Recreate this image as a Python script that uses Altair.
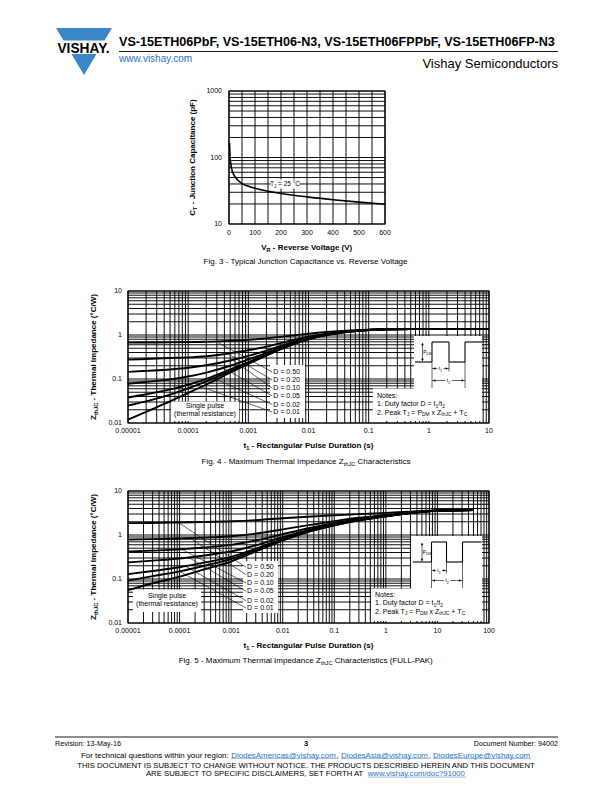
import altair as alt
import pandas as pd

FONT = "Liberation Sans, Arial, Helvetica, sans-serif"
LOGO_BLUE = "#3b86c8"
LINK_BLUE = "#2a72c0"

# ------------------------------------------------------------------ text content
TITLE = "VS-15ETH06PbF, VS-15ETH06-N3, VS-15ETH06FPPbF, VS-15ETH06FP-N3"
SITE = "www.vishay.com"
COMPANY = "Vishay Semiconductors"
REVISION = "Revision: 13-May-16"
PAGE = "3"
DOCNUM = "Document Number: 94002"
DISC1 = "THIS DOCUMENT IS SUBJECT TO CHANGE WITHOUT NOTICE. THE PRODUCTS DESCRIBED HEREIN AND THIS DOCUMENT"
DISC2 = "ARE SUBJECT TO SPECIFIC DISCLAIMERS, SET FORTH AT "
DISC_LINK = "www.vishay.com/doc?91000"

# ------------------------------------------------------------------ Fig. 3 data
fig3_vr = [2, 3, 4, 5, 7, 10, 15, 20, 30, 50, 75, 100, 150, 200, 300, 400, 500, 600]
fig3_ct = [165, 128, 106, 93, 80, 68, 59, 54, 47.5, 40.5, 37, 34.5, 31, 28.8, 25.6, 23.2, 21.3, 19.8]
fig3_x_ticks = [0, 100, 200, 300, 400, 500, 600]
fig3_x_labels = ["0", "100", "200", "300", "400", "500", "600"]
fig3_y_ticks = [10, 100, 1000]
fig3_y_labels = ["10", "100", "1000"]

# ------------------------------------------------------------------ Fig. 4 data
fig4_t = [1e-5, 2e-5, 5e-5, 1e-4, 2e-4, 5e-4, 1e-3, 2e-3, 5e-3, 1e-2, 2e-2, 5e-2, 0.1, 0.2, 0.5, 1, 10]
fig4_single = [0.012, 0.018, 0.031, 0.048, 0.075, 0.14, 0.22, 0.34, 0.58, 0.80, 1.00, 1.20, 1.30, 1.35, 1.37, 1.37, 1.37]
fig4_d001 = [0.025, 0.031, 0.044, 0.061, 0.088, 0.152, 0.231, 0.35, 0.588, 0.806, 1.004, 1.20, 1.30, 1.35, 1.37, 1.37, 1.37]
fig4_d002 = [0.038, 0.045, 0.058, 0.074, 0.101, 0.165, 0.243, 0.36, 0.596, 0.811, 1.007, 1.203, 1.30, 1.35, 1.37, 1.37, 1.37]
fig4_d005 = [0.078, 0.086, 0.098, 0.114, 0.14, 0.20, 0.278, 0.392, 0.62, 0.83, 1.02, 1.21, 1.30, 1.35, 1.37, 1.37, 1.37]
fig4_d010 = [0.145, 0.153, 0.165, 0.18, 0.205, 0.263, 0.335, 0.443, 0.66, 0.857, 1.037, 1.217, 1.307, 1.35, 1.37, 1.37, 1.37]
fig4_d020 = [0.275, 0.285, 0.30, 0.31, 0.33, 0.385, 0.45, 0.545, 0.74, 0.915, 1.07, 1.23, 1.31, 1.35, 1.37, 1.37, 1.37]
fig4_d050 = [0.67, 0.675, 0.68, 0.69, 0.70, 0.735, 0.775, 0.84, 0.96, 1.07, 1.17, 1.27, 1.32, 1.35, 1.37, 1.37, 1.37]
fig4_series = [("single", fig4_single), ("0.01", fig4_d001), ("0.02", fig4_d002), ("0.05", fig4_d005),
               ("0.10", fig4_d010), ("0.20", fig4_d020), ("0.50", fig4_d050)]

# ------------------------------------------------------------------ Fig. 5 data
fig5_t = [1e-5, 3e-5, 1e-4, 3e-4, 1e-3, 3e-3, 1e-2, 3e-2, 0.1, 0.3, 1, 3, 10, 50]
fig5_single = [0.056, 0.08, 0.113, 0.165, 0.25, 0.42, 0.75, 1.15, 1.65, 2.15, 2.65, 3.15, 3.55, 3.7]
fig5_d001 = [0.092, 0.116, 0.149, 0.20, 0.285, 0.453, 0.78, 1.176, 1.67, 2.165, 2.66, 3.155, 3.55, 3.7]
fig5_d002 = [0.129, 0.152, 0.185, 0.236, 0.319, 0.486, 0.809, 1.201, 1.69, 2.18, 2.67, 3.16, 3.55, 3.7]
fig5_d005 = [0.238, 0.261, 0.292, 0.342, 0.423, 0.584, 0.898, 1.278, 1.753, 2.228, 2.70, 3.18, 3.56, 3.7]
fig5_d010 = [0.42, 0.442, 0.472, 0.519, 0.595, 0.748, 1.045, 1.405, 1.855, 2.305, 2.755, 3.205, 3.565, 3.7]
fig5_d020 = [0.785, 0.804, 0.83, 0.872, 0.94, 1.076, 1.34, 1.66, 2.06, 2.46, 2.86, 3.26, 3.58, 3.7]
fig5_d050 = [1.86, 1.88, 1.92, 1.97, 2.05, 2.18, 2.40, 2.60, 2.80, 2.98, 3.18, 3.40, 3.62, 3.7]
fig5_series = [("single", fig5_single), ("0.01", fig5_d001), ("0.02", fig5_d002), ("0.05", fig5_d005),
               ("0.10", fig5_d010), ("0.20", fig5_d020), ("0.50", fig5_d050)]

# shared axis labels for the thermal-impedance plots
zth_y_ticks = [0.01, 0.1, 1, 10]
zth_y_labels = ["0.01", "0.1", "1", "10"]
fig4_x_ticks = [1e-5, 1e-4, 1e-3, 1e-2, 0.1, 1, 10]
fig4_x_labels = ["0.00001", "0.0001", "0.001", "0.01", "0.1", "1", "10"]
fig5_x_ticks = [1e-5, 1e-4, 1e-3, 1e-2, 0.1, 1, 10, 100]
fig5_x_labels = ["0.00001", "0.0001", "0.001", "0.01", "0.1", "1", "10", "100"]

duty_labels = ["D = 0.50", "D = 0.20", "D = 0.10", "D = 0.05", "D = 0.02", "D = 0.01"]
fig4_label_t = 0.0025
fig4_label_z = [0.144, 0.095, 0.0624, 0.0411, 0.0263, 0.0178]
fig4_leader_t0 = [3.0e-4, 4.5e-4, 5.5e-4, 4.0e-4, 2.5e-4, 1.4e-4]
fig4_leader_z0 = [0.70, 0.38, 0.27, 0.175, 0.108, 0.072]
fig5_label_t = 0.00195
fig5_label_z = [0.184, 0.125, 0.081, 0.0525, 0.0321, 0.0218]
fig5_leader_t0 = [9.5e-5, 1.6e-4, 1.1e-4, 1.5e-4, 1.3e-4, 1.0e-4]
fig5_leader_z0 = [1.92, 0.85, 0.475, 0.31, 0.195, 0.149]

# ------------------------------------------------------------------ font metrics (Helvetica/Arial)
_UP = "ABCDEFGHIJKLMNOPQRSTUVWXYZ"
_LO = "abcdefghijklmnopqrstuvwxyz"
_R = dict(zip(_UP, [667, 667, 722, 722, 667, 611, 778, 722, 278, 500, 667, 556, 833, 722, 778, 667, 778, 722, 667, 611, 722, 667, 944, 667, 667, 611]))
_R.update(zip(_LO, [556, 556, 500, 556, 556, 278, 556, 556, 222, 222, 500, 222, 833, 556, 556, 556, 556, 333, 500, 278, 556, 500, 722, 500, 500, 500]))
_R.update({" ": 278, "(": 333, ")": 333, ",": 278, "-": 333, ".": 278, "/": 278, ":": 278, "=": 584, "@": 1015, "°": 400, "+": 584, "?": 556})
_R.update({d: 556 for d in "0123456789"})
_B = dict(zip(_UP, [722, 722, 722, 722, 667, 611, 778, 722, 278, 556, 722, 611, 833, 722, 778, 667, 778, 722, 667, 611, 722, 667, 944, 667, 667, 611]))
_B.update(zip(_LO, [556, 611, 556, 611, 556, 333, 611, 611, 278, 278, 556, 278, 889, 611, 611, 611, 611, 389, 556, 333, 611, 556, 778, 556, 556, 500]))
_B.update({" ": 278, "(": 333, ")": 333, ",": 278, "-": 333, ".": 278, "/": 278, ":": 333, "=": 584, "@": 975, "°": 400, "+": 584, "?": 611})
_B.update({d: 556 for d in "0123456789"})


def tw(s, size, bold=False):
    tab = _B if bold else _R
    return sum(tab.get(c, 556) for c in s) * size / 1000.0


texts = []


def add_text(x, y, s, size, weight="normal", color="black", align="left", angle=0, font=FONT, baseline="alphabetic"):
    texts.append(dict(x=x, y=y, text=s, size=size, weight=weight, color=color, align=align,
                      angle=angle, font=font, baseline=baseline))


def rich(segs, x, y, size, weight="normal", anchor="left", angle=0):
    bold = weight == "bold"
    items = []
    for seg in segs:
        s, kind = seg[0], seg[1]
        col = seg[2] if len(seg) > 2 else "black"
        fs = size * 0.7 if kind == "s" else size
        sh = size * 0.25 if kind == "s" else 0.0
        items.append((s, fs, sh, col, tw(s, fs, bold)))
    total = sum(i[4] for i in items)
    pos = -{"left": 0, "center": total / 2.0, "right": total}[anchor]
    spans = []
    for s, fs, sh, col, w in items:
        lead = len(s) - len(s.lstrip(" "))
        start = pos + tw(" " * lead, fs, bold)
        body = s.strip(" ")
        if body:
            if angle == 0:
                add_text(x + start, y + sh, body, fs, weight, col)
            else:
                add_text(x + sh, y - start, body, fs, weight, col, angle=270)
        spans.append((x + start, x + start + tw(body, fs, bold)))
        pos += w
    return spans


segs_px = []   # x0, y0, x1, y1, width, color
rects_px = []  # x0, y0, x1, y1
arrows = []    # x, y, shape


def log_grid(e0, e1):
    vals = [float(f"{m}e{e}") for e in range(e0, e1) for m in range(1, 10)]
    return vals + [float(f"1e{e1}")]


layers = []
GRID_W = 0.95


def vgrid(vals, xs, y0, y1):
    return alt.Chart(pd.DataFrame({"v": vals})).mark_rule(color="black", strokeWidth=GRID_W).encode(
        x=alt.X("v:Q", scale=xs, axis=None), y=alt.value(y0), y2=alt.value(y1))


def hgrid(vals, ys, x0, x1):
    return alt.Chart(pd.DataFrame({"v": vals})).mark_rule(color="black", strokeWidth=GRID_W).encode(
        y=alt.Y("v:Q", scale=ys, axis=None), x=alt.value(x0), x2=alt.value(x1))


def frame(x0, y0, x1, y1):
    return alt.Chart(pd.DataFrame({"a": [0]})).mark_rect(fillOpacity=0, stroke="black", strokeWidth=1.2).encode(
        x=alt.value(x0), x2=alt.value(x1), y=alt.value(y0), y2=alt.value(y1))


def white_boxes(boxes):
    df = pd.DataFrame(boxes, columns=["x0", "y0", "x1", "y1"])
    return alt.Chart(df).mark_rect(color="white").encode(
        x=alt.X("x0:Q", scale=None, axis=None), x2="x1:Q",
        y=alt.Y("y0:Q", scale=None, axis=None), y2="y1:Q")


def curves(t, series, xs, ys, w):
    rows = [dict(t=tt, z=zz, s=name) for name, zs in series for tt, zz in zip(t, zs)]
    return alt.Chart(pd.DataFrame(rows)).mark_line(color="black", strokeWidth=w, interpolate="monotone").encode(
        x=alt.X("t:Q", scale=xs, axis=None), y=alt.Y("z:Q", scale=ys, axis=None), detail="s:N")


def xticks(vals, labels, xs, yb):
    return alt.Chart(pd.DataFrame({"v": vals, "l": labels})).mark_text(
        align="center", baseline="alphabetic", font=FONT, fontSize=7).encode(
        x=alt.X("v:Q", scale=xs, axis=None), y=alt.value(yb), text="l:N")


def yticks(vals, labels, ys, xr):
    return alt.Chart(pd.DataFrame({"v": vals, "l": labels})).mark_text(
        align="right", baseline="middle", font=FONT, fontSize=7).encode(
        x=alt.value(xr), y=alt.Y("v:Q", scale=ys, axis=None), text="l:N")


def leaders(t0, z0, t1, z1s, xs, ys):
    df = pd.DataFrame({"t0": t0, "z0": z0, "t1": [t1] * len(t0), "z1": z1s})
    return alt.Chart(df).mark_rule(color="black", strokeWidth=0.6).encode(
        x=alt.X("t0:Q", scale=xs, axis=None), x2="t1:Q",
        y=alt.Y("z0:Q", scale=ys, axis=None), y2="z1:Q")


def dlabels(t, zs, xs, ys):
    df = pd.DataFrame({"t": [t] * len(zs), "z": zs, "l": duty_labels})
    return alt.Chart(df).mark_text(align="left", baseline="middle", font=FONT, fontSize=7, dx=1).encode(
        x=alt.X("t:Q", scale=xs, axis=None), y=alt.Y("z:Q", scale=ys, axis=None), text="l:N")


def inset(x0, xr1, xf1, xr2, xe, yb, yt, ya1, ya2, ybot):
    for s in [(x0, yb, xr1, yb), (xr1, yb, xr1, yt), (xr1, yt, xf1, yt), (xf1, yt, xf1, yb),
              (xf1, yb, xr2, yb), (xr2, yb, xr2, yt), (xr2, yt, xe, yt)]:
        segs_px.append(s + (1.1, "black"))
    xa = xr1 - 9.5
    ym1 = (xr1 + xf1) / 2.0
    ym2 = (xr1 + xr2) / 2.0
    for s in [(xa, yt + 1, xa, yb - 1), (xr1, yb, xr1, ybot), (xf1, yb, xf1, ya1 + 3), (xr2, yb, xr2, ybot),
              (xr1, ya1, ym1 - 3, ya1), (ym1 + 3, ya1, xf1, ya1),
              (xr1, ya2, ym2 - 3, ya2), (ym2 + 3, ya2, xr2, ya2)]:
        segs_px.append(s + (0.6, "black"))
    arrows.extend([(xa, yt + 2.2, "triangle-up"), (xa, yb - 2.2, "triangle-down"),
                   (xr1 + 2.2, ya1, "triangle-left"), (xf1 - 2.2, ya1, "triangle-right"),
                   (xr1 + 2.2, ya2, "triangle-left"), (xr2 - 2.2, ya2, "triangle-right")])
    rich([("P", "n"), ("DM", "s")], xa + 0.8, (yt + yb) / 2.0 + 1.8, 4.6)
    rich([("t", "n"), ("1", "s")], ym1, ya1 + 1.8, 5, anchor="center")
    rich([("t", "n"), ("2", "s")], ym2, ya2 + 1.8, 5, anchor="center")


def notes(x, y):
    add_text(x, y, "Notes:", 7)
    rich([("1. Duty factor D = t", "n"), ("1", "s"), ("/t", "n"), ("2", "s")], x, y + 8.3, 7)
    rich([("2. Peak T", "n"), ("J", "s"), (" = P", "n"), ("DM", "s"), (" x Z", "n"), ("thJC", "s"),
          (" + T", "n"), ("C", "s")], x, y + 16.6, 7)


# ------------------------------------------------------------------ scales
X3 = alt.Scale(type="linear", domain=[0, 600], range=[229, 385], nice=False, zero=False)
Y3 = alt.Scale(type="log", domain=[10, 1000], range=[224, 91], nice=False)
X4 = alt.Scale(type="log", domain=[1e-5, 10], range=[128, 489], nice=False)
Y4 = alt.Scale(type="log", domain=[0.01, 10], range=[423, 291], nice=False)
X5 = alt.Scale(type="log", domain=[1e-5, 100], range=[128, 489], nice=False)
Y5 = alt.Scale(type="log", domain=[0.01, 10], range=[623, 491], nice=False)

# ------------------------------------------------------------------ Fig. 3
layers += [
    vgrid(list(range(0, 601, 50)), X3, 91, 224),
    hgrid(log_grid(1, 3), Y3, 229, 385),
    frame(229, 91, 385, 224),
    white_boxes([(270.5, 179.5, 299.5, 188.5)]),
    alt.Chart(pd.DataFrame({"v": fig3_vr, "c": fig3_ct})).mark_line(
        color="black", strokeWidth=1.6, interpolate="monotone").encode(
        x=alt.X("v:Q", scale=X3, axis=None), y=alt.Y("c:Q", scale=Y3, axis=None)),
    xticks(fig3_x_ticks, fig3_x_labels, X3, 234.5),
    yticks(fig3_y_ticks, fig3_y_labels, Y3, 222),
]
rich([("T", "n"), ("J", "s"), (" = 25 °C", "n")], 285, 186.3, 6.5, anchor="center")
rich([("V", "n"), ("R", "s"), (" - Reverse Voltage (V)", "n")], 307, 250, 8, "bold", "center")
rich([("C", "n"), ("T", "s"), (" - Junction Capacitance (pF)", "n")], 194.5, 157.5, 8, "bold", "center", 270)
rich([("Fig. 3 - Typical Junction Capacitance vs. Reverse Voltage", "n")], 306, 263.5, 8, anchor="center")

# ------------------------------------------------------------------ Fig. 4
layers += [
    vgrid(log_grid(-5, 1), X4, 291, 423),
    hgrid(log_grid(-2, 1), Y4, 128, 489),
    frame(128, 291, 489, 423),
    white_boxes([(414, 336, 482, 389), (373, 388.5, 482, 421), (171, 401.5, 239, 421), (270, 365, 305, 418)]),
    curves(fig4_t, fig4_series, X4, Y4, 1.9),
    leaders(fig4_leader_t0, fig4_leader_z0, fig4_label_t, fig4_label_z, X4, Y4),
    dlabels(fig4_label_t, fig4_label_z, X4, Y4),
    xticks(fig4_x_ticks, fig4_x_labels, X4, 433),
    yticks(zth_y_ticks, zth_y_labels, Y4, 122),
]
add_text(205, 408, "Single pulse", 7, align="center")
add_text(205, 415.8, "(thermal resistance)", 7, align="center")
notes(377, 398)
inset(415, 432, 449, 465, 482, 362, 342, 368.5, 380.5, 388)
rich([("t", "n"), ("1", "s"), (" - Rectangular Pulse Duration (s)", "n")], 308.5, 448, 8, "bold", "center")
rich([("Z", "n"), ("thJC", "s"), (" - Thermal Impedance (°C/W)", "n")], 95.5, 357, 8, "bold", "center", 270)
rich([("Fig. 4 - Maximum Thermal Impedance Z", "n"), ("thJC", "s"), (" Characteristics", "n")], 306, 463.5, 8,
     anchor="center")

# ------------------------------------------------------------------ Fig. 5
layers += [
    vgrid(log_grid(-5, 2), X5, 491, 623),
    hgrid(log_grid(-2, 1), Y5, 128, 489),
    frame(128, 491, 489, 623),
    white_boxes([(411, 536, 482, 589), (371, 588.5, 482, 621), (133, 589.5, 201, 612), (243, 561, 278, 613)]),
    curves(fig5_t, fig5_series, X5, Y5, 1.9),
    leaders(fig5_leader_t0, fig5_leader_z0, fig5_label_t, fig5_label_z, X5, Y5),
    dlabels(fig5_label_t, fig5_label_z, X5, Y5),
    xticks(fig5_x_ticks, fig5_x_labels, X5, 633),
    yticks(zth_y_ticks, zth_y_labels, Y5, 122),
]
add_text(167, 597.5, "Single pulse", 7, align="center")
add_text(167, 605.5, "(thermal resistance)", 7, align="center")
notes(375, 597)
inset(413, 431.5, 446.5, 462.5, 481.5, 562, 542, 570.5, 580.5, 588)
rich([("t", "n"), ("1", "s"), (" - Rectangular Pulse Duration (s)", "n")], 308.5, 648, 8, "bold", "center")
rich([("Z", "n"), ("thJC", "s"), (" - Thermal Impedance (°C/W)", "n")], 95.5, 557, 8, "bold", "center", 270)
rich([("Fig. 5 - Maximum Thermal Impedance Z", "n"), ("thJC", "s"), (" Characteristics (FULL-PAK)", "n")], 306,
     662.5, 8, anchor="center")

# ------------------------------------------------------------------ header
title_size = 439.0 / tw(TITLE, 1, True)
add_text(119, 45.5, TITLE, title_size, "bold")
segs_px.append((119, 51.5, 558, 51.5, 0.9, "black"))
add_text(119, 62, SITE, 10, color=LINK_BLUE)
add_text(558, 68, COMPANY, 13, align="right")
rects_px.append((50, 40.5, 116, 54))
logo_size = 55.0 / tw("VISHAY.", 1, True)
add_text(83.5, 52.5, "VISHAY.", logo_size, "bold", align="center")

# ------------------------------------------------------------------ footer
segs_px.append((55, 737, 558, 737, 0.9, "black"))
add_text(55, 745.5, REVISION, 7.2)
add_text(306, 746, PAGE, 7.5, "bold", align="center")
add_text(558, 745.5, DOCNUM, 7.2, align="right")
mail_segs = [("For technical questions within your region: ", "n"), ("DiodesAmericas@vishay.com", "n", LINK_BLUE),
             (", ", "n"), ("DiodesAsia@vishay.com", "n", LINK_BLUE), (", ", "n"),
             ("DiodesEurope@vishay.com", "n", LINK_BLUE)]
mail_size = 450.0 / tw("".join(s[0] for s in mail_segs), 1)
spans = rich(mail_segs, 306, 757.5, mail_size, anchor="center")
for i in (1, 3, 5):
    segs_px.append((spans[i][0], 758.6, spans[i][1], 758.6, 0.5, LINK_BLUE))
disc_size = 460.0 / tw(DISC1, 1)
add_text(306, 768, DISC1, disc_size, align="center")
spans = rich([(DISC2, "n"), (DISC_LINK, "n", LINK_BLUE)], 306, 776, disc_size, anchor="center")
segs_px.append((spans[1][0], 777.1, spans[1][1], 777.1, 0.5, LINK_BLUE))

# ------------------------------------------------------------------ pixel-space decorations
logo = alt.Chart(pd.DataFrame({"a": [0]})).mark_point(
    shape="M-1,-0.839L1,-0.839L0,0.839Z", size=56 * 56, filled=True, color=LOGO_BLUE, opacity=1,
    strokeWidth=0).encode(x=alt.value(84), y=alt.value(51.5))
band = alt.Chart(pd.DataFrame(rects_px, columns=["x0", "y0", "x1", "y1"])).mark_rect(color="white").encode(
    x=alt.X("x0:Q", scale=None, axis=None), x2="x1:Q", y=alt.Y("y0:Q", scale=None, axis=None), y2="y1:Q")
seg_df = pd.DataFrame(segs_px, columns=["x0", "y0", "x1", "y1", "w", "c"])
seg_layer = alt.Chart(seg_df).mark_rule().encode(
    x=alt.X("x0:Q", scale=None, axis=None), x2="x1:Q", y=alt.Y("y0:Q", scale=None, axis=None), y2="y1:Q",
    size=alt.Size("w:Q", scale=None, legend=None), color=alt.Color("c:N", scale=None, legend=None))
arrow_df = pd.DataFrame(arrows, columns=["x", "y", "shape"])
arrow_layer = alt.Chart(arrow_df).mark_point(filled=True, color="black", opacity=1, size=7, strokeWidth=0).encode(
    x=alt.X("x:Q", scale=None, axis=None), y=alt.Y("y:Q", scale=None, axis=None),
    shape=alt.Shape("shape:N", scale=None, legend=None))
layers += [logo, band, seg_layer, arrow_layer]

tdf = pd.DataFrame(texts)
for (weight, align, font, baseline), sub in tdf.groupby(["weight", "align", "font", "baseline"]):
    layers.append(alt.Chart(sub.reset_index(drop=True)).mark_text(
        align=align, baseline=baseline, font=font, fontWeight=weight).encode(
        x=alt.X("x:Q", scale=None, axis=None), y=alt.Y("y:Q", scale=None, axis=None), text="text:N",
        size=alt.Size("size:Q", scale=None, legend=None), color=alt.Color("color:N", scale=None, legend=None),
        angle=alt.Angle("angle:Q", scale=None, legend=None)))

chart = alt.layer(*layers).resolve_scale(x="independent", y="independent").properties(
    width=612, height=792, padding=0, autosize=alt.AutoSizeParams(type="none"), background="white"
).configure_view(strokeWidth=0)

chart.save("out.html", embed_options={"renderer": "svg", "actions": False})
